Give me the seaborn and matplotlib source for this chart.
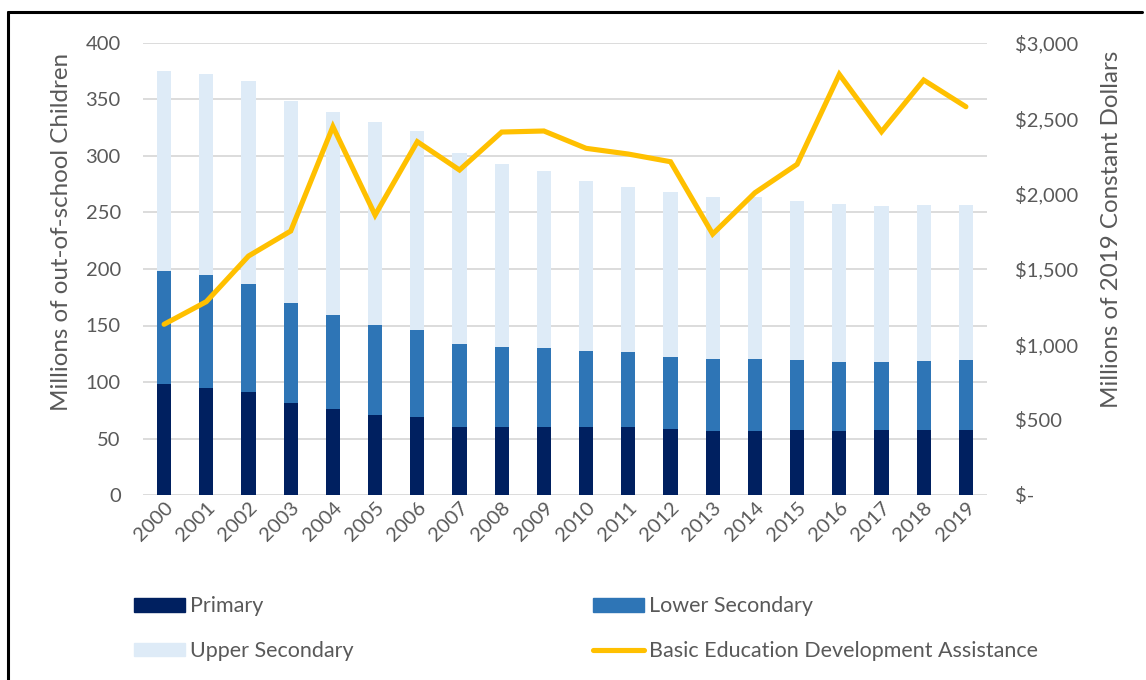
import numpy as np
import pandas as pd
import matplotlib
matplotlib.use("Agg")
import matplotlib.pyplot as plt
import matplotlib.patches as mpatches
from matplotlib.lines import Line2D
import seaborn as sns

years = [str(y) for y in range(2000, 2020)]
primary = [98.2, 94.7, 91.4, 81.1, 75.8, 71.1, 68.7, 59.9, 59.9, 59.9,
           59.9, 59.9, 58.7, 56.4, 56.4, 57.5, 56.4, 57.5, 57.5, 57.5]
lower_secondary = [99.8, 99.7, 95.1, 88.5, 83.5, 79.1, 77.0, 73.4, 71.1, 69.9,
                   67.8, 66.3, 63.1, 64.2, 64.2, 62.3, 61.0, 59.9, 61.1, 62.3]
upper_secondary = [177.5, 178.6, 179.9, 179.4, 179.9, 179.8, 176.7, 169.7, 161.6, 157.2,
                   150.2, 146.4, 146.0, 142.8, 143.1, 140.1, 140.4, 138.1, 138.0, 136.8]
assistance = [1133, 1283, 1586, 1752, 2445, 1858, 2345, 2157, 2409, 2416,
              2301, 2263, 2212, 1732, 2006, 2195, 2792, 2411, 2754, 2577]
left_ticks = [0, 50, 100, 150, 200, 250, 300, 350, 400]
right_ticks = [0, 500, 1000, 1500, 2000, 2500, 3000]
right_labels = ["$-", "$500", "$1,000", "$1,500", "$2,000", "$2,500", "$3,000"]

C_PRIM = "#002060"
C_LOW = "#2E75B6"
C_UP = "#DEEBF7"
C_LINE = "#FFC000"
TXT = "#595959"

sns.set_theme(style="white")
plt.rcParams["font.family"] = ["Lato", "DejaVu Sans"]

df = pd.DataFrame({"year": years, "primary": primary,
                   "lower": lower_secondary, "upper": upper_secondary,
                   "assist": assistance})
df["c_low"] = df["primary"] + df["lower"]
df["c_up"] = df["c_low"] + df["upper"]
df["pos"] = np.arange(len(df))

W, H = 1146, 680
fig = plt.figure(figsize=(W / 100, H / 100), dpi=100)
ax = fig.add_axes([143 / W, 1 - 495 / H, (987 - 143) / W, (495 - 43) / H])

bw = 0.34
sns.barplot(data=df, x="year", y="c_up", color=C_UP, width=bw, ax=ax,
            saturation=1, linewidth=0, zorder=2)
sns.barplot(data=df, x="year", y="c_low", color=C_LOW, width=bw, ax=ax,
            saturation=1, linewidth=0, zorder=2)
sns.barplot(data=df, x="year", y="primary", color=C_PRIM, width=bw, ax=ax,
            saturation=1, linewidth=0, zorder=2)

TS = 14.5
LS = 17.4
ax.set_ylim(0, 400)
ax.set_xlim(-0.5, len(years) - 0.5)
ax.set_yticks(left_ticks)
ax.set_yticklabels([str(t) for t in left_ticks])
ax.yaxis.grid(True, color="#D9D9D9", linewidth=1.3, zorder=0)
ax.set_axisbelow(True)
for s in ax.spines.values():
    s.set_visible(False)
ax.tick_params(axis="y", length=0, pad=16, labelsize=TS, labelcolor=TXT)
ax.tick_params(axis="x", length=0, pad=3, labelsize=TS, labelcolor=TXT)
for lab in ax.get_xticklabels():
    lab.set_rotation(45)
    lab.set_ha("right")
    lab.set_rotation_mode("anchor")
ax.set_xlabel("")
ax.set_ylabel("")

ax2 = ax.twinx()
sns.lineplot(data=df, x="pos", y="assist", color=C_LINE, linewidth=3.7, ax=ax2,
             zorder=5, solid_joinstyle="miter")
ax2.set_ylim(0, 3000)
ax2.set_xlim(-0.5, len(years) - 0.5)
ax2.set_yticks(right_ticks)
ax2.set_yticklabels(right_labels)
for lab in ax2.get_yticklabels():
    lab.set_ha("left")
ax2.tick_params(axis="y", length=0, pad=20, labelsize=TS, labelcolor=TXT)
for s in ax2.spines.values():
    s.set_visible(False)
ax2.grid(False)
ax2.set_xlabel("")
ax2.set_ylabel("")

fig.text(62 / W, 1 - 232 / H, "Millions of out-of-school Children", rotation=90,
         ha="center", va="center", fontsize=LS, color=TXT)
fig.text(1111 / W, 1 - 229 / H, "Millions of 2019 Constant Dollars", rotation=90,
         ha="center", va="center", fontsize=LS, color=TXT)

handles = [mpatches.Patch(color=C_PRIM, label="Primary"),
           mpatches.Patch(color=C_UP, label="Upper Secondary"),
           mpatches.Patch(color=C_LOW, label="Lower Secondary"),
           Line2D([0], [0], color=C_LINE, linewidth=3.7, label="Basic Education Development Assistance")]
LF = 15.5
leg = fig.legend(handles=handles, ncol=2, loc="upper left",
                 bbox_to_anchor=(128 / W, 1 - 590 / H), frameon=False,
                 fontsize=LF, handlelength=2.35, handleheight=0.6,
                 handletextpad=0.25, labelspacing=1.15, columnspacing=11.1,
                 borderaxespad=0, borderpad=0.3)
for t in leg.get_texts():
    t.set_color(TXT)

# frame lines (top and left only)
fig.lines.append(Line2D([8 / W, 1142 / W], [1 - 12 / H, 1 - 12 / H], transform=fig.transFigure,
                        color="black", linewidth=2.2, figure=fig))
fig.lines.append(Line2D([8 / W, 8 / W], [0, 1 - 12 / H], transform=fig.transFigure,
                        color="black", linewidth=2.2, figure=fig))

fig.savefig("out.png", dpi=100, facecolor="white")
